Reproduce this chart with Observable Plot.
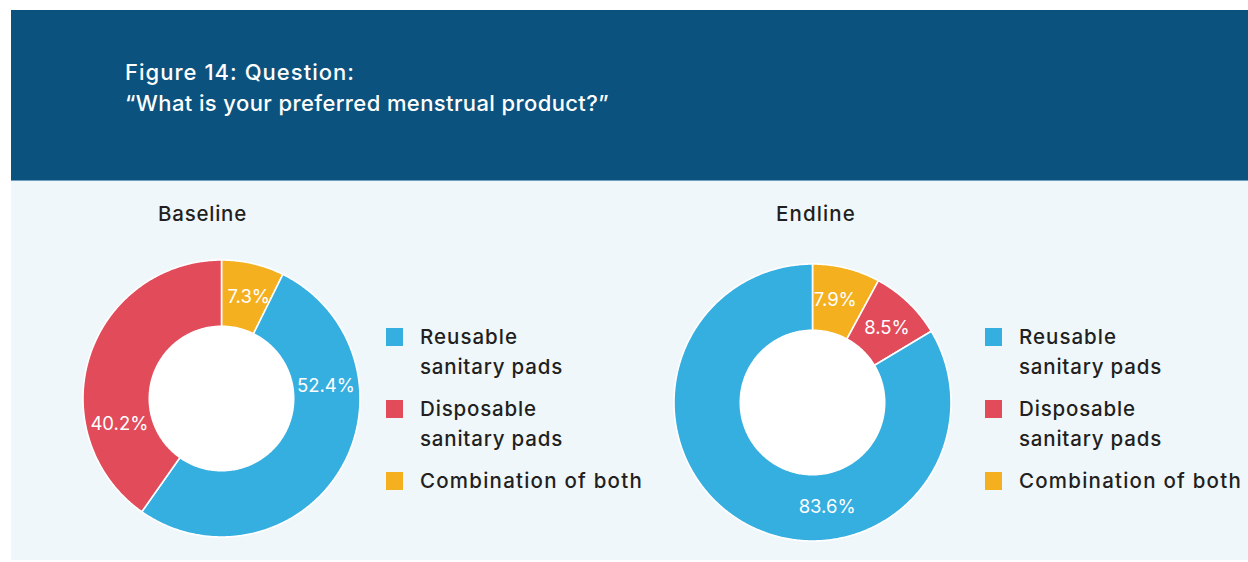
<!DOCTYPE html>
<html>
<head>
<meta charset="utf-8">
<script src="https://cdn.jsdelivr.net/npm/d3@7"></script>
<script src="https://cdn.jsdelivr.net/npm/@observablehq/plot@0.6"></script>
<style>
  html, body { margin: 0; padding: 0; background: #ffffff; }
  body { font-family: Inter, "Open Sans", sans-serif; }
  #page { position: relative; width: 1248px; height: 562px; overflow: hidden; background: #ffffff; }
  #header { position: absolute; left: 11px; top: 10px; width: 1237px; height: 170px; background: #0b527e; }
  #panel { position: absolute; left: 11px; top: 180px; width: 1237px; height: 380px; background: #eff7fb; border-top: 1px solid #6f9fbf; box-sizing: border-box; }
  #title { position: absolute; left: 125px; top: 57px; color: #ffffff; font-size: 22px; line-height: 31px; font-weight: 500; white-space: nowrap; }
  .subtitle { position: absolute; color: #231f20; font-size: 20.5px; font-weight: 500; line-height: 28px; white-space: nowrap; }
  .legend { position: absolute; color: #231f20; font-size: 20.5px; line-height: 30px; font-weight: 500; white-space: nowrap; }
  .legend .item { position: relative; padding-left: 34px; margin-bottom: 12px; }
  .legend .sw { position: absolute; left: 0; top: 6px; width: 17px; height: 18px; }
  .chart { position: absolute; }
</style>
</head>
<body>
<div id="page">
  <div id="header"></div>
  <div id="panel"></div>
  <div id="title"><span class="fit" data-w="230">Figure 14: Question:</span><br><span class="fit" data-w="484">“What is your preferred menstrual product?”</span></div>
  <div class="subtitle" style="left:158px; top:200px;"><span class="fit" data-w="89">Baseline</span></div>
  <div class="subtitle" style="left:776px; top:200px;"><span class="fit" data-w="80">Endline</span></div>
  <div class="legend" id="leg1" style="left:386px; top:322px;"></div>
  <div class="legend" id="leg2" style="left:985px; top:322px;"></div>
  <div class="chart" id="c1"></div>
  <div class="chart" id="c2"></div>
</div>
<script>
// ---------------- data ----------------
const categories = ["Reusable sanitary pads", "Disposable sanitary pads", "Combination of both"];
const legendLines = [["Reusable", "sanitary pads"], ["Disposable", "sanitary pads"], ["Combination of both"]];
const colors = ["#35aee0", "#e14b5a", "#f4b01f"];

// slice order as drawn clockwise from 12 o'clock
const baselineOrder = ["Combination of both", "Reusable sanitary pads", "Disposable sanitary pads"];
const baselineValues = [7.3, 52.4, 40.2];
const endlineOrder = ["Combination of both", "Disposable sanitary pads", "Reusable sanitary pads"];
const endlineValues = [7.9, 8.5, 83.6];

// ---------------- layout ----------------
const SIZE = 300;           // svg size
const R_PX = 138.5;         // outer radius in px
const HOLE = 73 / 138.5;    // inner radius fraction
const LABEL_R = 0.76;       // label radius fraction
const baselineLabelAngles = [15, 83, 256];   // degrees clockwise from top
const endlineLabelAngles = [12.5, 45, 172];

function donut(order, values, labelAngles) {
  const arcs = d3.pie().sort(null).value(d => d.v)(order.map((c, i) => ({c, v: values[i]})));
  const wedges = [];
  arcs.forEach(a => {
    const c = a.data.c;
    wedges.push({c, x: 0, y: 0});
    const n = Math.max(2, Math.ceil((a.endAngle - a.startAngle) / 0.01));
    for (let k = 0; k <= n; k++) {
      const t = a.startAngle + (a.endAngle - a.startAngle) * k / n;
      wedges.push({c, x: Math.sin(t), y: Math.cos(t)});
    }
    wedges.push({c, x: 0, y: 0});
  });
  const hole = d3.range(0, 361).map(d => {
    const t = d * Math.PI / 180;
    return {x: HOLE * Math.sin(t), y: HOLE * Math.cos(t)};
  });
  const labels = arcs.map((a, i) => {
    const t = labelAngles[i] * Math.PI / 180;
    return {x: LABEL_R * Math.sin(t), y: LABEL_R * Math.cos(t), text: `${a.data.v.toFixed(1)}%`};
  });
  const pad = SIZE / 2 - R_PX;
  return Plot.plot({
    width: SIZE,
    height: SIZE,
    margin: 0,
    style: {background: "transparent", fontFamily: "Inter, 'Open Sans', sans-serif"},
    x: {domain: [-1, 1], range: [pad, SIZE - pad], axis: null},
    y: {domain: [-1, 1], range: [SIZE - pad, pad], axis: null},
    color: {domain: categories, range: colors},
    marks: [
      Plot.line(wedges, {x: "x", y: "y", z: "c", fill: "c", stroke: "#ffffff", strokeWidth: 1.6, strokeLinejoin: "round"}),
      Plot.line(hole, {x: "x", y: "y", fill: "#ffffff", stroke: "none"}),
      Plot.text(labels, {x: "x", y: "y", text: "text", fill: "#ffffff", fontSize: 18.5, fontWeight: 400, letterSpacing: "0.5px"})
    ]
  });
}

function legend(el, widths) {
  categories.forEach((c, i) => {
    const item = document.createElement("div");
    item.className = "item";
    const sw = document.createElement("div");
    sw.className = "sw";
    sw.style.background = colors[i];
    item.appendChild(sw);
    item.insertAdjacentHTML("beforeend", legendLines[i].map((t) => `<span class="fit" data-w="${widths[t]}">${t}</span>`).join("<br>"));
    el.appendChild(item);
  });
}

const legendWidths = {"Reusable": 98, "sanitary pads": 143, "Disposable": 117, "Combination of both": 223};

const c1 = document.getElementById("c1");
c1.style.left = (220.5 - SIZE / 2) + "px";
c1.style.top = (397.5 - SIZE / 2) + "px";
c1.appendChild(donut(baselineOrder, baselineValues, baselineLabelAngles));

const c2 = document.getElementById("c2");
c2.style.left = (811.5 - SIZE / 2) + "px";
c2.style.top = (401.5 - SIZE / 2) + "px";
c2.appendChild(donut(endlineOrder, endlineValues, endlineLabelAngles));

legend(document.getElementById("leg1"), legendWidths);
legend(document.getElementById("leg2"), legendWidths);

// stretch letter spacing so text widths match the reference
document.querySelectorAll(".fit").forEach(s => {
  const target = +s.dataset.w;
  const w = s.getBoundingClientRect().width;
  const n = s.textContent.length;
  if (n > 1) s.style.letterSpacing = ((target - w) / n) + "px";
});
</script>
</body>
</html>
